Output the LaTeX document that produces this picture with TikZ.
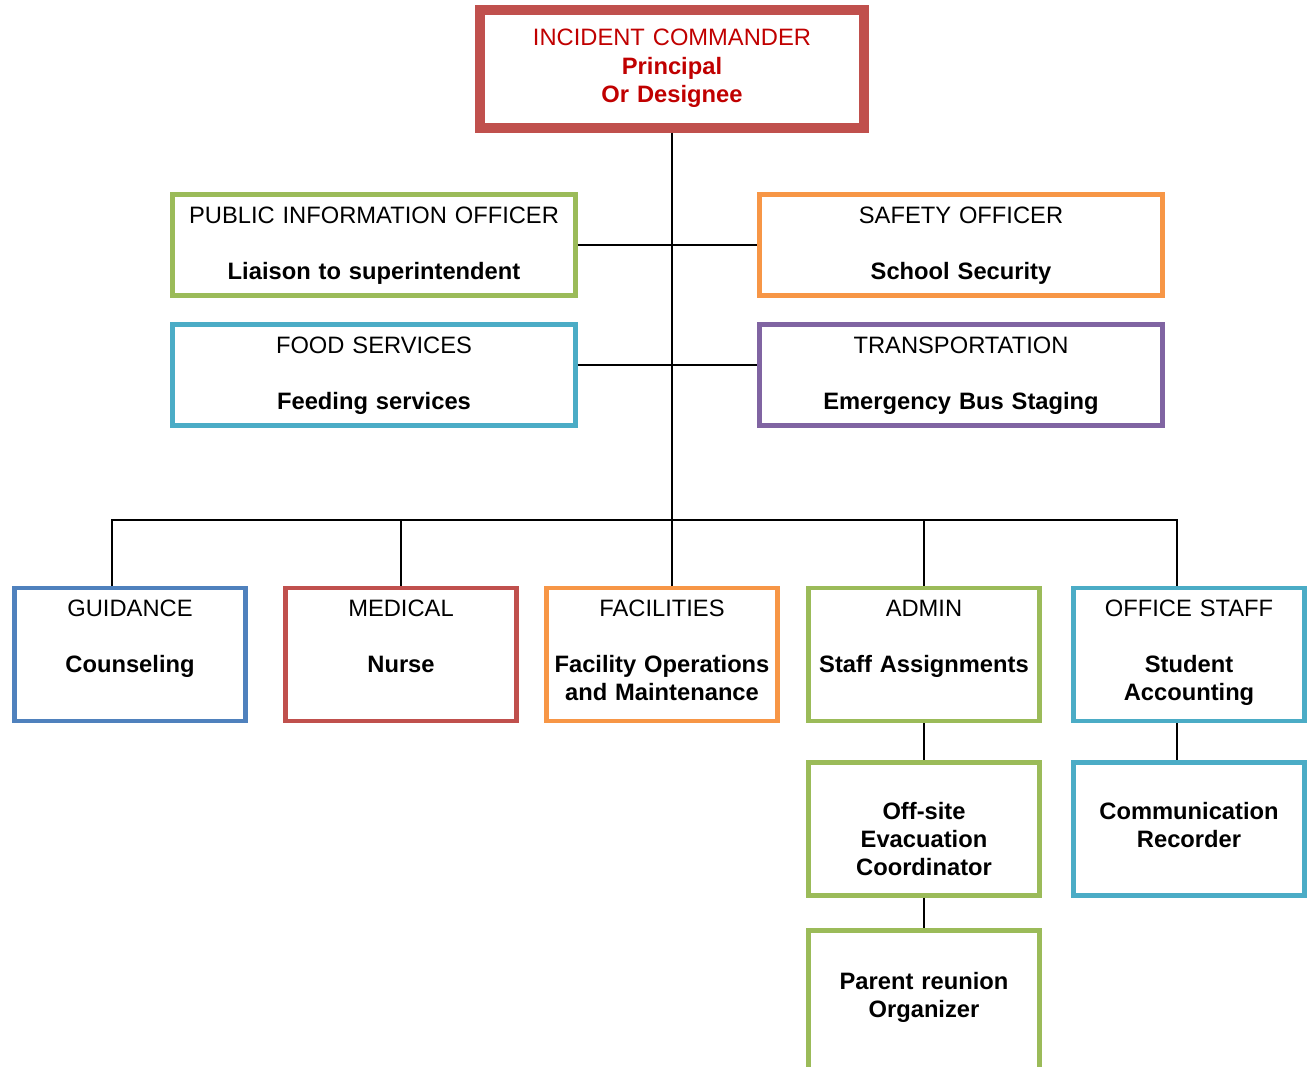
\documentclass[tikz,border=0pt]{standalone}
\usepackage{fontspec}
\setmainfont{Liberation Sans}
\usepackage{tikz}
\usetikzlibrary{positioning,calc}
\definecolor{IcsRed}{HTML}{C0504D}
\definecolor{IcsText}{HTML}{C00000}
\definecolor{IcsGreen}{HTML}{9BBB59}
\definecolor{IcsOrange}{HTML}{F79646}
\definecolor{IcsCyan}{HTML}{4BACC6}
\definecolor{IcsPurple}{HTML}{8064A2}
\definecolor{IcsBlue}{HTML}{4F81BD}

\begin{document}
\begin{tikzpicture}[x=0.02cm,y=-0.02cm,every node/.style={font=\fontsize{13.5}{16}\selectfont}]
    \tikzset{unit/.style={draw=#1,line width=2.6pt,align=center,inner sep=0pt},
      wide/.style={text width=8.06cm,text height=0.57cm,text depth=1.45cm},
      narrow/.style={text width=4.62cm,text height=0.56cm,text depth=2.10cm},
      lower/.style={text width=4.62cm,text height=1.13cm,text depth=1.53cm},
      link/.style={draw=black,line width=0.9pt}}
    \useasboundingbox (0,0) rectangle (1309,1067);
    % commander
    \node[unit=IcsRed,line width=4.2pt,text width=7.72cm,text height=0.74cm,text depth=1.66cm,text=IcsText] (ic) at (672,69)
      {INCIDENT COMMANDER\\\textbf{Principal}\\\textbf{Or Designee}};
    \draw[IcsRed,line width=1pt] ([shift={(0.18cm,-0.18cm)}]ic.north west) rectangle ([shift={(-0.18cm,0.18cm)}]ic.south east);
    % command staff
    \node[unit=IcsGreen,wide] (pio) at (374,245) {PUBLIC INFORMATION OFFICER\\[0.56cm]\textbf{Liaison to superintendent}};
    \node[unit=IcsOrange,wide] (saf) at (961,245) {SAFETY OFFICER\\[0.56cm]\textbf{School Security}};
    \node[unit=IcsCyan,wide] (food) at (374,375) {FOOD SERVICES\\[0.56cm]\textbf{Feeding services}};
    \node[unit=IcsPurple,wide] (trans) at (961,375) {TRANSPORTATION\\[0.56cm]\textbf{Emergency Bus Staging}};
    % sections
    \node[unit=IcsBlue,narrow] (guid) at (130,654.5) {GUIDANCE\\[0.56cm]\textbf{Counseling}};
    \node[unit=IcsRed,narrow] (med) at (401,654.5) {MEDICAL\\[0.56cm]\textbf{Nurse}};
    \node[unit=IcsOrange,narrow] (fac) at (662,654.5) {FACILITIES\\[0.56cm]\textbf{Facility Operations}\\\textbf{and Maintenance}};
    \node[unit=IcsGreen,narrow] (adm) at (924,654.5) {ADMIN\\[0.56cm]\textbf{Staff Assignments}};
    \node[unit=IcsCyan,narrow] (ofs) at (1189,654.5) {OFFICE STAFF\\[0.56cm]\textbf{Student}\\\textbf{Accounting}};
    \node[unit=IcsGreen,lower] (offs) at (924,829) {\textbf{Off-site}\\\textbf{Evacuation}\\\textbf{Coordinator}};
    \node[unit=IcsCyan,lower] (com) at (1189,829) {\textbf{Communication}\\\textbf{Recorder}};
    \node[unit=IcsGreen,lower,text height=1.17cm,text depth=1.66cm] (par) at (924,1001.25) {\textbf{Parent reunion}\\\textbf{Organizer}};
    % connectors
    \coordinate (bus) at (673,520);
    \draw[link] (ic.south) -- (ic.south |- fac.north);
    \draw[link] (pio.east) -- (saf.west);
    \draw[link] ([yshift=0.2cm]food.east) -- ([yshift=0.2cm]trans.west);
    \draw[link] ([xshift=-0.36cm]guid.north) |- (bus) -| ([xshift=-0.24cm]ofs.north);
    \foreach \x in {med,adm}{\draw[link] (\x.north) -- (\x.north |- bus);}
    \draw[link] (adm) -- (offs);
    \draw[link] (offs) -- (par);
    \draw[link] ([xshift=-0.24cm]ofs.south) -- ([xshift=-0.24cm]com.north);
  \end{tikzpicture}
\end{document}
